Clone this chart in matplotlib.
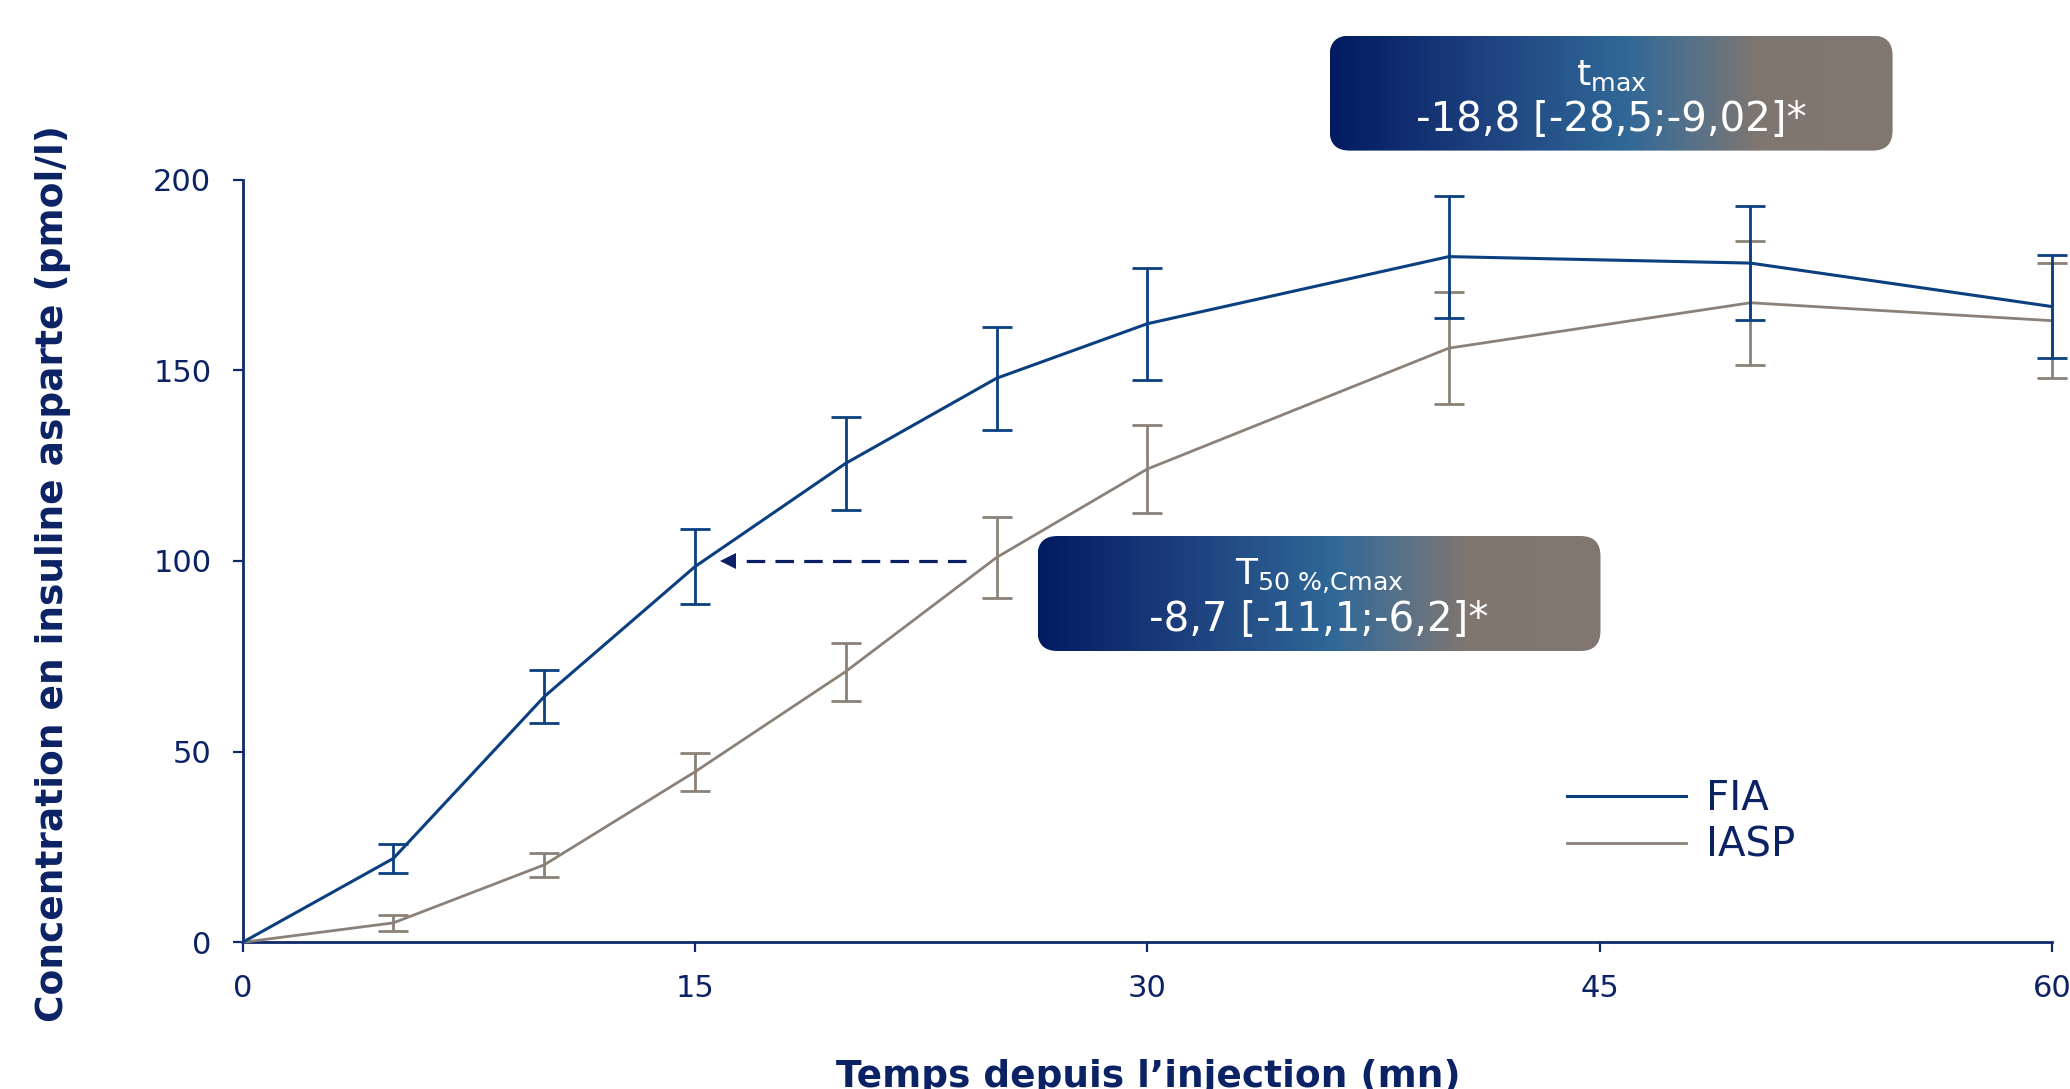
import numpy as np
import matplotlib
matplotlib.use('Agg')
import matplotlib.pyplot as plt
from matplotlib.patches import FancyBboxPatch
from matplotlib.colors import LinearSegmentedColormap

# ---------------- data ----------------
time_min = [0, 5, 10, 15, 20, 25, 30, 40, 50, 60]
fia_mean = [0, 22.0, 64.4, 98.5, 125.6, 147.9, 162.2, 179.8, 178.1, 166.7]
fia_err = [0, 3.8, 7.0, 9.8, 12.2, 13.5, 14.7, 16.0, 15.0, 13.5]
iasp_mean = [0, 5.1, 20.3, 44.7, 71.0, 100.9, 124.1, 155.8, 167.7, 163.0]
iasp_err = [0, 2.1, 3.1, 4.9, 7.6, 10.5, 11.5, 14.7, 16.2, 15.0]
series_labels = ['FIA', 'IASP']
x_ticks = [0, 15, 30, 45, 60]
y_ticks = [0, 50, 100, 150, 200]
arrow_level = 100
arrow_start = 24.0
arrow_end = 16.5
arrow_tip = 16.1
tmax_title = r'$\mathregular{t_{max}}$'
tmax_value = '-18,8 [-28,5;-9,02]*'
t50_title = r'$\mathregular{T_{50\ \%{,}Cmax}}$'
t50_value = '-8,7 [-11,1;-6,2]*'
x_label = 'Temps depuis l\u2019injection (mn)'
y_label = 'Concentration en insuline asparte (pmol/l)'

# ---------------- style ----------------
NAVY_TXT = '#0b2265'
SPINE = '#10296b'
FIA_C = '#0b3f80'
IASP_C = '#8b8178'
ARROW_C = '#0a1f66'

plt.rcParams['font.family'] = ['DejaVu Sans']

W, H = 2070, 1089
fig = plt.figure(figsize=(W / 100, H / 100), dpi=100)
ax = fig.add_axes([0.1172, 0.1347, 0.8741, 0.7004])

t = np.array(time_min, dtype=float)
fia = np.array(fia_mean)
fe = np.array(fia_err)
ia = np.array(iasp_mean)
ie = np.array(iasp_err)

def err(x, y, e, c, z):
    cont = ax.errorbar(x[1:], y[1:], yerr=e[1:], fmt='none', ecolor=c,
                       elinewidth=2.0, capsize=11, capthick=2.0, zorder=z)
    for a in list(cont.lines[1]) + list(cont.lines[2]):
        a.set_clip_on(False)

err(t, ia, ie, IASP_C, 3)
l_iasp, = ax.plot(t, ia, color=IASP_C, lw=2.0, zorder=3, label=series_labels[1])
l_iasp.set_clip_on(False)
err(t, fia, fe, FIA_C, 4)
l_fia, = ax.plot(t, fia, color=FIA_C, lw=2.2, zorder=4, label=series_labels[0])
l_fia.set_clip_on(False)

# dashed arrow
ax.plot([arrow_start, arrow_end], [arrow_level, arrow_level], color=ARROW_C,
        lw=2.3, dashes=(5.8, 3.2), zorder=5)
ax.plot([arrow_tip], [arrow_level], marker='<', ms=11, color=ARROW_C,
        markeredgewidth=0, zorder=5)

ax.set_xlim(0, 60)
ax.set_ylim(0, 200)
ax.set_xticks(x_ticks)
ax.set_yticks(y_ticks)
for s in ['top', 'right']:
    ax.spines[s].set_visible(False)
for s in ['left', 'bottom']:
    ax.spines[s].set_color(SPINE)
    ax.spines[s].set_linewidth(2.0)
ax.tick_params(axis='both', colors=SPINE, labelcolor=NAVY_TXT, length=7.5,
               width=1.6, labelsize=22, pad=15, direction='out')

fig.text(0.0255, 0.473, y_label, rotation=90, ha='center', va='center',
         fontsize=27, fontweight='bold', color=NAVY_TXT)
fig.text(0.5545, 0.002, x_label, ha='center', va='baseline',
         fontsize=27, fontweight='bold', color=NAVY_TXT)

leg = ax.legend(handles=[l_fia, l_iasp], loc='upper left',
                bbox_to_anchor=(1566.7 / W, 1 - 779 / H),
                bbox_transform=fig.transFigure, frameon=False, fontsize=29,
                handlelength=2.95, handletextpad=0.5, labelspacing=0.165,
                borderpad=0, borderaxespad=0)
for txt in leg.get_texts():
    txt.set_color(NAVY_TXT)

# gradient boxes
cmap = LinearSegmentedColormap.from_list('box', [
    (0.0, '#021b61'), (0.25, '#1c3e7c'), (0.52, '#2f6797'),
    (0.64, '#56718a'), (0.76, '#7f7670'), (1.0, '#837870')])

def gbox(x0, y0top, bw, bh, title, value):
    bax = fig.add_axes([x0 / W, 1 - (y0top + bh) / H, bw / W, bh / H])
    bax.set_xlim(0, bw)
    bax.set_ylim(0, bh)
    bax.axis('off')
    grad = np.linspace(0, 1, 512).reshape(1, -1)
    im = bax.imshow(grad, extent=[0, bw, 0, bh], aspect='auto', cmap=cmap,
                    origin='lower')
    patch = FancyBboxPatch((0, 0), bw, bh,
                           boxstyle='round,pad=0,rounding_size=20',
                           transform=bax.transData, facecolor='none',
                           edgecolor='none')
    bax.add_patch(patch)
    im.set_clip_path(patch)
    bax.text(bw / 2, bh - 49, title, ha='center', va='baseline',
             fontsize=26, color='white')
    bax.text(bw / 2, bh - 95, value, ha='center', va='baseline',
             fontsize=29, color='white')

gbox(1329.6, 35.6, 563, 115, tmax_title, tmax_value)
gbox(1037.5, 536, 563, 115, t50_title, t50_value)

fig.savefig('out.png', dpi=100)
